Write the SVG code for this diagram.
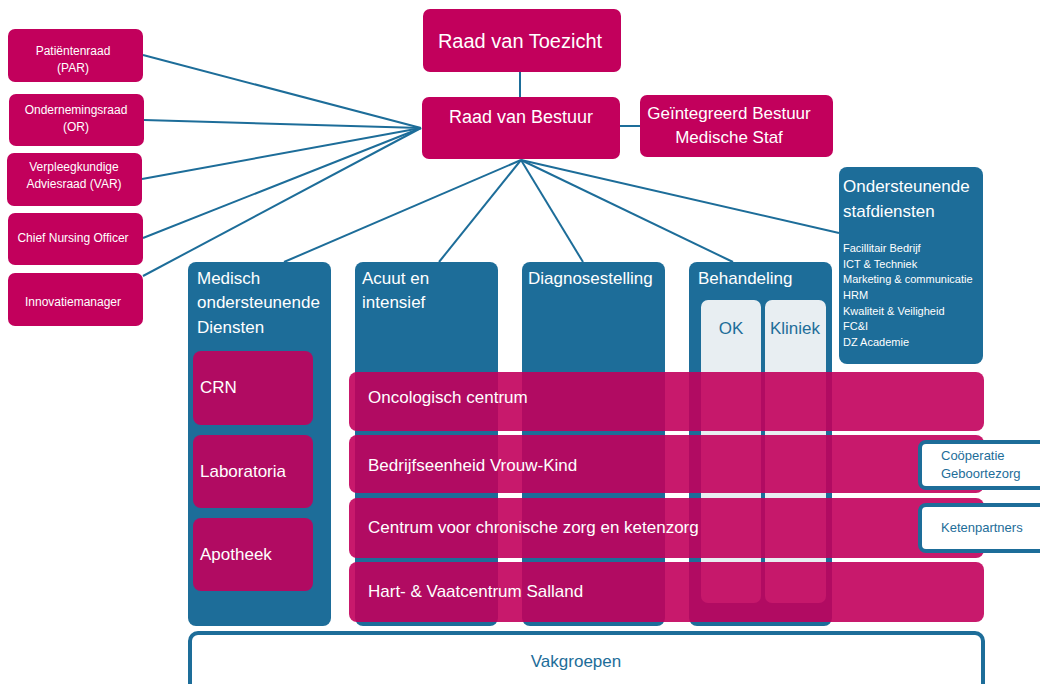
<svg xmlns="http://www.w3.org/2000/svg" width="1040" height="684" viewBox="0 0 1040 684">
<style>
text{font-family:"Liberation Sans",Arial,sans-serif;}
.pk{fill:#C2005C;}
.pkt{fill:#C2005C;fill-opacity:0.9;}
.bl{fill:#1D6D99;}
.lt{fill:#E8EEF2;}
.ob{fill:#FFFFFF;stroke:#1D6D99;stroke-width:4;}
.w{fill:#FFFFFF;}
.b{fill:#1D6D99;}
.c{stroke:#1D6D99;stroke-width:2;fill:none;}
</style>
<g id="connectors">
<line class="c" x1="520" y1="72" x2="520" y2="97"/>
<line class="c" x1="620" y1="126" x2="640" y2="126"/>
<line class="c" x1="143" y1="55" x2="421" y2="128"/>
<line class="c" x1="144" y1="120" x2="421" y2="128"/>
<line class="c" x1="142" y1="179" x2="421" y2="128"/>
<line class="c" x1="143" y1="238" x2="421" y2="128"/>
<line class="c" x1="143" y1="276" x2="421" y2="128"/>
<line class="c" x1="521" y1="160" x2="284" y2="262"/>
<line class="c" x1="521" y1="160" x2="439" y2="262"/>
<line class="c" x1="521" y1="160" x2="583" y2="262"/>
<line class="c" x1="521" y1="160" x2="733" y2="262"/>
<line class="c" x1="521" y1="160" x2="839" y2="233"/>
</g>
<g id="raad-van-toezicht">
<rect class="pk" x="423" y="9" width="198" height="63" rx="7"/>
<text class="w" x="520" y="48" font-size="20" text-anchor="middle">Raad van Toezicht</text>
</g>
<g id="raad-van-bestuur">
<rect class="pk" x="422" y="97" width="198" height="62" rx="7"/>
<text class="w" x="521" y="123" font-size="18" text-anchor="middle">Raad van Bestuur</text>
</g>
<g id="geintegreerd-bestuur">
<rect class="pk" x="640" y="95" width="193" height="62" rx="7"/>
<text class="w" x="729" y="119" font-size="17" text-anchor="middle">Geïntegreerd Bestuur</text>
<text class="w" x="729" y="143" font-size="17" text-anchor="middle">Medische Staf</text>
</g>
<g id="patientenraad">
<rect class="pk" x="8" y="29" width="135" height="53" rx="7"/>
<text class="w" x="73" y="55" font-size="12" text-anchor="middle">Patiëntenraad</text>
<text class="w" x="73" y="72" font-size="12" text-anchor="middle">(PAR)</text>
</g>
<g id="ondernemingsraad">
<rect class="pk" x="9" y="94" width="135" height="52" rx="7"/>
<text class="w" x="76" y="114" font-size="12" text-anchor="middle">Ondernemingsraad</text>
<text class="w" x="76" y="131" font-size="12" text-anchor="middle">(OR)</text>
</g>
<g id="verpleegkundige-adviesraad">
<rect class="pk" x="7" y="153" width="135" height="53" rx="7"/>
<text class="w" x="74" y="171" font-size="12" text-anchor="middle">Verpleegkundige</text>
<text class="w" x="74" y="188" font-size="12" text-anchor="middle">Adviesraad (VAR)</text>
</g>
<g id="chief-nursing-officer">
<rect class="pk" x="8" y="213" width="135" height="52" rx="7"/>
<text class="w" x="73" y="242" font-size="12" text-anchor="middle">Chief Nursing Officer</text>
</g>
<g id="innovatiemanager">
<rect class="pk" x="8" y="273" width="135" height="53" rx="7"/>
<text class="w" x="73" y="306" font-size="12" text-anchor="middle">Innovatiemanager</text>
</g>
<g id="ondersteunende-stafdiensten">
<rect class="bl" x="839" y="167" width="144" height="197" rx="8"/>
<text class="w" x="843" y="192" font-size="17">Ondersteunende</text>
<text class="w" x="843" y="217" font-size="17">stafdiensten</text>
<text class="w" x="843" y="252" font-size="11">Facillitair Bedrijf</text>
<text class="w" x="843" y="268" font-size="11">ICT &amp; Techniek</text>
<text class="w" x="843" y="283" font-size="11">Marketing &amp; communicatie</text>
<text class="w" x="843" y="299" font-size="11">HRM</text>
<text class="w" x="843" y="315" font-size="11">Kwaliteit &amp; Veiligheid</text>
<text class="w" x="843" y="330" font-size="11">FC&amp;I</text>
<text class="w" x="843" y="346" font-size="11">DZ Academie</text>
</g>
<g id="medisch-ondersteunende-diensten">
<rect class="bl" x="188" y="262" width="143" height="364" rx="8"/>
<text class="w" x="197" y="284" font-size="17">Medisch</text>
<text class="w" x="197" y="308" font-size="17">ondersteunende</text>
<text class="w" x="197" y="333" font-size="17">Diensten</text>
</g>
<g id="acuut-en-intensief">
<rect class="bl" x="355" y="262" width="143" height="364" rx="8"/>
<text class="w" x="362" y="284" font-size="17">Acuut en</text>
<text class="w" x="362" y="308" font-size="17">intensief</text>
</g>
<g id="diagnosestelling">
<rect class="bl" x="522" y="262" width="143" height="364" rx="8"/>
<text class="w" x="528" y="284" font-size="17">Diagnosestelling</text>
</g>
<g id="behandeling">
<rect class="bl" x="689" y="262" width="143" height="364" rx="8"/>
<text class="w" x="698" y="284" font-size="17">Behandeling</text>
</g>
<g id="ok">
<rect class="lt" x="701" y="300" width="60" height="303" rx="7"/>
<text class="b" x="731" y="334" font-size="17" text-anchor="middle">OK</text>
</g>
<g id="kliniek">
<rect class="lt" x="765" y="300" width="61" height="303" rx="7"/>
<text class="b" x="795" y="334" font-size="17" text-anchor="middle">Kliniek</text>
</g>
<g id="crn">
<rect class="pkt" x="193" y="351" width="120" height="74" rx="8"/>
<text class="w" x="200" y="393" font-size="17">CRN</text>
</g>
<g id="laboratoria">
<rect class="pkt" x="193" y="435" width="120" height="73" rx="8"/>
<text class="w" x="200" y="477" font-size="17">Laboratoria</text>
</g>
<g id="apotheek">
<rect class="pkt" x="193" y="518" width="120" height="73" rx="8"/>
<text class="w" x="200" y="560" font-size="17">Apotheek</text>
</g>
<g id="oncologisch-centrum">
<rect class="pkt" x="349" y="372" width="635" height="59" rx="8"/>
<text class="w" x="368" y="403" font-size="17">Oncologisch centrum</text>
</g>
<g id="bedrijfseenheid-vrouw-kind">
<rect class="pkt" x="349" y="435" width="635" height="58" rx="8"/>
<text class="w" x="368" y="471" font-size="17">Bedrijfseenheid Vrouw-Kind</text>
</g>
<g id="centrum-chronische-zorg">
<rect class="pkt" x="349" y="498" width="635" height="60" rx="8"/>
<text class="w" x="368" y="533" font-size="17">Centrum voor chronische zorg en ketenzorg</text>
</g>
<g id="hart-vaatcentrum">
<rect class="pkt" x="349" y="562" width="635" height="60" rx="8"/>
<text class="w" x="368" y="597" font-size="17">Hart- &amp; Vaatcentrum Salland</text>
</g>
<g id="cooperatie-geboortezorg">
<rect class="ob" x="920" y="442" width="130" height="46" rx="6"/>
<text class="b" x="941" y="460" font-size="13">Coöperatie</text>
<text class="b" x="941" y="478" font-size="13">Geboortezorg</text>
</g>
<g id="ketenpartners">
<rect class="ob" x="920" y="505" width="130" height="46" rx="6"/>
<text class="b" x="941" y="532" font-size="13">Ketenpartners</text>
</g>
<g id="vakgroepen">
<rect class="ob" x="190" y="633" width="793" height="70" rx="8"/>
<text class="b" x="576" y="667" font-size="17" text-anchor="middle">Vakgroepen</text>
</g>
</svg>
